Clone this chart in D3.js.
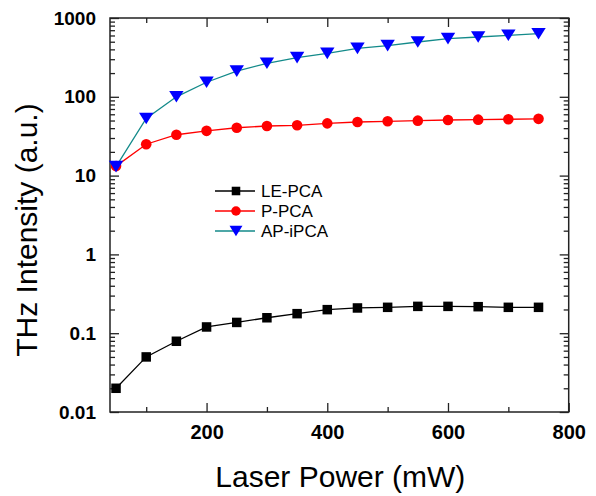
<!DOCTYPE html>
<meta charset="utf-8">
<style>
body { margin: 0; background: #fff; }
.tick text { font-family: "Liberation Sans", Arial, sans-serif; font-weight: bold; fill: #000; }
.axis path { display: none; }
.axis line { stroke: #222; stroke-width: 1.3px; }
</style>
<body></body>
<script src="https://cdn.jsdelivr.net/npm/d3@7"></script>
<script>
// laser power (mW)
var power = [50, 100, 150, 200, 250, 300, 350, 400, 450, 500, 550, 600, 650, 700, 750];
var lePCA = [0.02, 0.05, 0.079, 0.12, 0.137, 0.157, 0.177, 0.199, 0.209, 0.213, 0.219, 0.219, 0.217, 0.213, 0.213];
var pPCA = [13.2, 25, 33, 37, 40.5, 42.6, 43.5, 46, 47.9, 48.9, 49.8, 50.8, 51.3, 51.9, 52.5];
var apIPCA = [13, 53, 100, 153, 212, 266, 314, 356, 412, 446, 496, 547, 574, 603, 632];
var xMajor = [200, 400, 600, 800];
var xMinor = [100, 300, 500, 700];
var yMajor = [0.01, 0.1, 1, 10, 100, 1000];
var yLabels = ["0.01", "0.1", "1", "10", "100", "1000"];

var W = 596, H = 496;
var plotL = 110, plotR = 568.7, plotT = 18, plotB = 412;

var svg = d3.select("body").append("svg").attr("width", W).attr("height", H);

var x = d3.scaleLinear().domain([40, 800]).range([plotL, plotR]);
var y = d3.scaleLog().domain([0.01, 1000]).range([plotB, plotT]);

// minor log ticks
var yMinor = [];
yMajor.slice(0, -1).forEach(function(d) {
  for (var k = 2; k <= 9; k++) yMinor.push(d * k);
});

// bottom axis
svg.append("g").attr("class", "axis").attr("transform", "translate(0," + plotB + ")")
  .call(d3.axisBottom(x).tickValues(xMajor).tickSizeInner(-9).tickSizeOuter(0).tickPadding(13).tickFormat(d3.format("d")))
  .selectAll("text").style("font-size", "20px");
svg.append("g").attr("class", "axis").attr("transform", "translate(0," + plotB + ")")
  .call(d3.axisBottom(x).tickValues(xMinor).tickSizeInner(-5).tickSizeOuter(0).tickFormat(""));
// top axis
svg.append("g").attr("class", "axis").attr("transform", "translate(0," + plotT + ")")
  .call(d3.axisTop(x).tickValues(xMajor).tickSizeInner(-9).tickSizeOuter(0).tickFormat(""));
svg.append("g").attr("class", "axis").attr("transform", "translate(0," + plotT + ")")
  .call(d3.axisTop(x).tickValues(xMinor).tickSizeInner(-5).tickSizeOuter(0).tickFormat(""));

// left axis
svg.append("g").attr("class", "axis").attr("transform", "translate(" + plotL + ",0)")
  .call(d3.axisLeft(y).tickValues(yMajor).tickSizeInner(-9).tickSizeOuter(0).tickPadding(14)
    .tickFormat(function(d, i) { return yLabels[i]; }))
  .selectAll("text").style("font-size", "19px");
svg.append("g").attr("class", "axis").attr("transform", "translate(" + plotL + ",0)")
  .call(d3.axisLeft(y).tickValues(yMinor).tickSizeInner(-5).tickSizeOuter(0).tickFormat(""));
// right axis
svg.append("g").attr("class", "axis").attr("transform", "translate(" + plotR + ",0)")
  .call(d3.axisRight(y).tickValues(yMajor).tickSizeInner(-9).tickSizeOuter(0).tickFormat(""));
svg.append("g").attr("class", "axis").attr("transform", "translate(" + plotR + ",0)")
  .call(d3.axisRight(y).tickValues(yMinor).tickSizeInner(-5).tickSizeOuter(0).tickFormat(""));

// frame
svg.append("rect").attr("x", plotL).attr("y", plotT)
  .attr("width", plotR - plotL).attr("height", plotB - plotT)
  .attr("fill", "none").attr("stroke", "#222").attr("stroke-width", 1.5);

var series = [
  {name: "LE-PCA", values: lePCA, line: "#000", fill: "#000", shape: "square"},
  {name: "P-PCA", values: pPCA, line: "#ff0000", fill: "#ff0000", shape: "circle"},
  {name: "AP-iPCA", values: apIPCA, line: "#138a8a", fill: "#0000ff", shape: "triangle"}
];

var line = d3.line().x(function(d) { return x(d[0]); }).y(function(d) { return y(d[1]); });

function marker(g, shape, fill, scale) {
  scale = scale || 1;
  if (shape == "square") {
    var s = 9.5 * scale;
    g.append("rect").attr("x", -s / 2).attr("y", -s / 2).attr("width", s).attr("height", s).attr("fill", fill);
  } else if (shape == "circle") {
    g.append("circle").attr("r", 5.3 * scale).attr("fill", fill);
  } else {
    var w = 7.2 * scale, h = 5.8 * scale;
    g.append("path").attr("d", "M" + (-w) + "," + (-h) + "L" + w + "," + (-h) + "L0," + h + "Z").attr("fill", fill);
  }
}

series.forEach(function(s) {
  var pts = power.map(function(p, i) { return [p, s.values[i]]; });
  svg.append("path").datum(pts).attr("d", line)
    .attr("fill", "none").attr("stroke", s.line).attr("stroke-width", 1.3);
  svg.selectAll(null).data(pts).enter().append("g")
    .attr("transform", function(d) { return "translate(" + x(d[0]) + "," + y(d[1]) + ")"; })
    .each(function() { marker(d3.select(this), s.shape, s.fill); });
});

// legend
var legend = svg.selectAll(".legend").data(series).enter().append("g")
  .attr("class", "legend")
  .attr("transform", function(d, i) { return "translate(0," + (191 + i * 20) + ")"; });
legend.append("line").attr("x1", 215).attr("x2", 255)
  .attr("stroke", function(d) { return d.line; }).attr("stroke-width", 1.5);
legend.each(function(d) {
  var g = d3.select(this).append("g").attr("transform", "translate(236,0)");
  marker(g, d.shape, d.fill, 0.9);
});
legend.append("text").attr("x", 261).attr("y", 6)
  .style("font-family", "Liberation Sans, Arial, sans-serif").style("font-size", "17px")
  .text(function(d) { return d.name; });

// axis titles
svg.append("text").attr("x", (plotL + plotR) / 2 + 1).attr("y", 487)
  .attr("text-anchor", "middle")
  .style("font-family", "Liberation Sans, Arial, sans-serif").style("font-size", "30px")
  .text("Laser Power (mW)");
svg.append("text").attr("transform", "translate(37,230) rotate(-90)")
  .attr("text-anchor", "middle")
  .style("font-family", "Liberation Sans, Arial, sans-serif").style("font-size", "30px")
  .text("THz Intensity (a.u.)");
</script>
